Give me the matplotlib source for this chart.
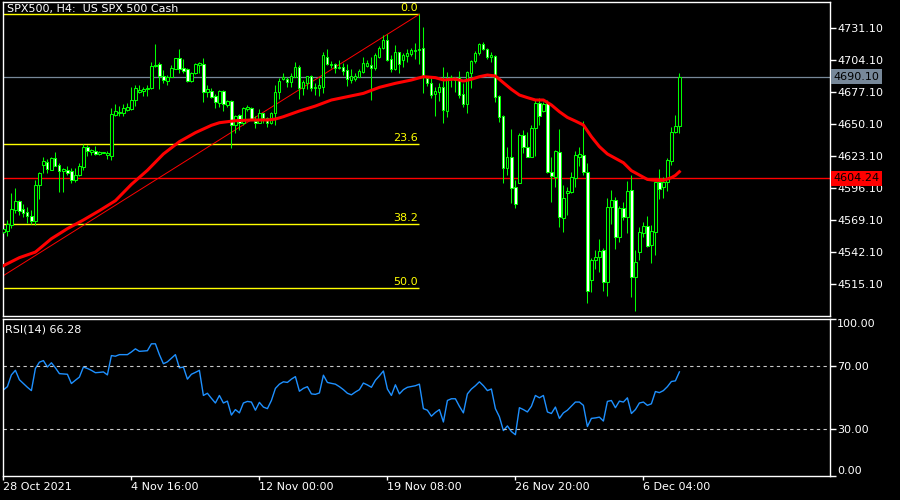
import numpy as np
import matplotlib
matplotlib.use('Agg')
import matplotlib.pyplot as plt
from matplotlib.transforms import blended_transform_factory

# H4 candles, 28 Oct 2021 .. 7 Dec 2021
opens = [4558.7, 4560.1, 4564.9, 4577.5, 4585.1, 4578.4, 4575.8, 4572.2, 4568.2, 4598.9,
         4615.8, 4617.8, 4611.6, 4621.2, 4615.6, 4610.8, 4611.3, 4610.2, 4602.6, 4607.1,
         4614.2, 4630.8, 4626.8, 4627.4, 4625.1, 4626.0, 4623.7, 4623.5, 4657.8, 4659.2,
         4659.2, 4662.0, 4662.6, 4670.2, 4677.5, 4678.4, 4679.5, 4680.4, 4698.9, 4700.6,
         4690.5, 4686.8, 4689.6, 4696.7, 4705.7, 4697.3, 4696.4, 4686.8, 4693.0, 4700.1,
         4700.9, 4677.5, 4678.4, 4673.9, 4667.7, 4678.4, 4666.3, 4669.6, 4649.4, 4657.5,
         4650.8, 4662.6, 4663.4, 4653.0, 4651.3, 4659.2, 4655.0, 4650.8, 4659.2, 4677.0,
         4688.0, 4688.2, 4686.0, 4690.2, 4698.4, 4680.9, 4684.6, 4690.5, 4680.4, 4680.4,
         4681.8, 4707.1, 4700.4, 4700.6, 4697.3, 4698.4, 4695.8, 4687.4, 4688.0, 4689.6,
         4694.4, 4699.2, 4700.1, 4697.3, 4706.5, 4714.2, 4721.2, 4704.9, 4696.7, 4710.8,
         4704.3, 4707.7, 4709.1, 4712.2, 4712.7, 4714.2, 4688.8, 4684.6, 4675.6, 4677.5,
         4681.2, 4661.2, 4688.0, 4687.4, 4690.2, 4675.3, 4666.8, 4693.6, 4703.4, 4709.9,
         4717.5, 4713.3, 4706.5, 4708.0, 4673.9, 4657.0, 4612.7, 4622.6, 4596.7, 4600.6,
         4640.9, 4630.5, 4622.6, 4646.5, 4667.7, 4661.5, 4667.7, 4609.9, 4605.7, 4626.8,
         4570.5, 4591.6, 4593.0, 4604.9, 4622.6, 4624.0, 4609.4, 4518.4, 4535.3, 4538.1,
         4543.7, 4517.0, 4579.8, 4586.0, 4554.4, 4578.9, 4571.9, 4594.4, 4521.2, 4542.3,
         4557.8, 4564.0, 4548.0, 4558.7, 4601.5, 4596.7, 4601.5, 4619.2, 4643.2, 4648.5]
highs = [4561.8, 4569.1, 4592.2, 4595.8, 4586.0, 4582.3, 4579.8, 4577.5, 4602.9, 4609.6,
         4622.3, 4620.6, 4622.0, 4626.3, 4617.0, 4613.3, 4615.0, 4612.7, 4613.3, 4617.0,
         4633.3, 4632.5, 4628.8, 4631.9, 4627.7, 4626.3, 4627.4, 4663.4, 4667.1, 4665.4,
         4667.4, 4667.7, 4681.2, 4683.2, 4683.2, 4681.2, 4683.2, 4702.3, 4717.8, 4702.9,
         4695.8, 4691.6, 4700.1, 4705.7, 4713.3, 4704.9, 4697.3, 4694.4, 4701.5, 4702.9,
         4705.7, 4683.2, 4680.4, 4675.3, 4678.9, 4678.9, 4670.5, 4670.5, 4657.8, 4658.4,
         4664.3, 4666.3, 4664.3, 4657.3, 4662.9, 4659.8, 4655.8, 4660.3, 4683.2, 4688.8,
         4693.6, 4689.6, 4693.0, 4702.6, 4700.1, 4687.4, 4690.8, 4691.3, 4685.1, 4688.8,
         4710.8, 4713.6, 4703.4, 4701.5, 4704.3, 4701.5, 4700.6, 4696.4, 4693.6, 4696.7,
         4706.5, 4704.3, 4707.1, 4709.9, 4716.1, 4725.4, 4726.0, 4708.5, 4717.0, 4711.3,
         4710.5, 4713.3, 4714.7, 4718.9, 4743.0, 4731.9, 4690.8, 4688.8, 4681.8, 4684.6,
         4698.7, 4694.4, 4691.6, 4690.2, 4695.3, 4684.6, 4695.3, 4704.3, 4712.2, 4718.4,
         4719.2, 4714.2, 4711.3, 4708.5, 4674.7, 4657.8, 4631.1, 4645.7, 4602.9, 4642.9,
         4645.1, 4643.7, 4649.4, 4670.5, 4671.9, 4669.1, 4670.5, 4622.6, 4628.2, 4646.0,
         4598.7, 4597.3, 4609.9, 4627.7, 4631.1, 4653.0, 4617.0, 4537.3, 4543.7, 4553.0,
         4545.1, 4587.4, 4594.4, 4588.8, 4580.9, 4584.6, 4602.3, 4607.1, 4543.7, 4562.9,
         4567.7, 4572.5, 4564.9, 4601.5, 4612.2, 4605.7, 4621.2, 4648.0, 4657.8, 4693.6]
lows = [4557.8, 4555.8, 4562.6, 4574.7, 4573.3, 4571.9, 4566.3, 4565.4, 4564.9, 4586.8,
        4609.1, 4609.1, 4611.3, 4614.7, 4593.0, 4593.0, 4607.1, 4600.1, 4600.9, 4606.5,
        4611.3, 4623.2, 4624.0, 4623.7, 4624.0, 4626.0, 4620.3, 4619.8, 4657.3, 4657.0,
        4657.3, 4661.2, 4662.0, 4665.4, 4676.1, 4674.2, 4673.9, 4679.5, 4698.7, 4679.5,
        4684.6, 4683.2, 4689.6, 4696.4, 4693.0, 4693.6, 4686.0, 4686.0, 4692.5, 4693.0,
        4669.1, 4673.3, 4671.9, 4663.4, 4664.9, 4661.5, 4664.3, 4629.6, 4642.9, 4645.1,
        4649.4, 4661.2, 4653.6, 4646.5, 4650.8, 4650.8, 4648.0, 4650.2, 4649.4, 4671.3,
        4687.4, 4681.2, 4681.2, 4689.6, 4671.3, 4674.7, 4679.5, 4678.4, 4674.7, 4674.2,
        4676.7, 4700.1, 4697.8, 4693.6, 4696.4, 4691.6, 4682.3, 4685.1, 4686.8, 4689.6,
        4693.6, 4698.7, 4670.5, 4695.8, 4705.7, 4713.3, 4703.4, 4694.4, 4695.8, 4693.0,
        4698.7, 4702.9, 4707.7, 4704.9, 4700.6, 4676.7, 4682.3, 4672.5, 4657.0, 4669.9,
        4651.3, 4656.4, 4681.8, 4677.5, 4671.9, 4664.3, 4659.2, 4680.4, 4702.0, 4708.5,
        4712.7, 4705.1, 4702.9, 4668.5, 4652.2, 4600.1, 4607.1, 4583.2, 4579.5, 4600.1,
        4625.4, 4622.6, 4622.6, 4623.2, 4649.4, 4660.6, 4608.5, 4584.6, 4597.3, 4563.4,
        4558.7, 4573.3, 4592.2, 4597.3, 4615.0, 4607.1, 4499.2, 4508.5, 4527.4, 4525.4,
        4509.1, 4505.1, 4565.4, 4544.3, 4550.8, 4569.1, 4557.8, 4504.3, 4492.5, 4535.3,
        4555.0, 4546.0, 4532.5, 4539.5, 4586.8, 4588.0, 4593.6, 4615.6, 4642.3, 4642.9]
closes = [4561.2, 4565.7, 4578.1, 4585.1, 4577.0, 4574.7, 4572.5, 4568.2, 4598.7, 4608.8,
          4618.9, 4612.2, 4621.2, 4615.0, 4610.8, 4612.2, 4608.8, 4602.6, 4607.1, 4615.0,
          4631.1, 4627.7, 4627.9, 4624.6, 4626.5, 4626.3, 4626.0, 4658.4, 4661.2, 4660.3,
          4664.0, 4664.9, 4670.2, 4680.4, 4678.9, 4680.1, 4680.9, 4699.2, 4699.8, 4690.8,
          4687.1, 4689.6, 4697.3, 4705.7, 4696.4, 4695.3, 4686.8, 4693.0, 4700.9, 4701.5,
          4677.0, 4679.5, 4673.3, 4668.5, 4678.4, 4666.8, 4669.6, 4649.4, 4657.3, 4650.8,
          4663.4, 4664.3, 4654.2, 4650.8, 4659.2, 4655.0, 4651.3, 4659.8, 4677.0, 4686.5,
          4689.6, 4686.0, 4690.5, 4698.4, 4680.9, 4686.0, 4690.5, 4680.4, 4681.2, 4682.9,
          4708.5, 4700.6, 4700.9, 4697.3, 4698.4, 4695.0, 4688.5, 4690.8, 4691.1, 4695.0,
          4702.0, 4701.8, 4697.8, 4708.5, 4714.2, 4721.2, 4704.3, 4696.4, 4710.8, 4700.6,
          4708.8, 4709.9, 4712.7, 4712.7, 4713.9, 4690.8, 4684.6, 4674.7, 4678.4, 4681.2,
          4662.0, 4688.8, 4689.6, 4688.8, 4674.7, 4666.8, 4693.9, 4703.4, 4709.9, 4717.5,
          4713.3, 4706.5, 4708.2, 4673.3, 4656.4, 4612.7, 4622.6, 4595.8, 4582.3, 4640.9,
          4630.5, 4622.6, 4646.5, 4667.7, 4657.3, 4667.1, 4609.9, 4606.3, 4627.4, 4571.3,
          4587.4, 4593.6, 4605.7, 4624.0, 4624.6, 4609.9, 4509.1, 4535.3, 4537.5, 4543.2,
          4517.0, 4580.3, 4586.0, 4554.4, 4578.9, 4571.9, 4593.6, 4521.2, 4533.3, 4558.7,
          4564.0, 4547.1, 4560.1, 4601.5, 4595.0, 4601.5, 4619.8, 4643.2, 4648.5, 4690.1]

# moving average (red), read at selected bars
ma_idx = [0, 4, 8, 12, 16, 20, 24, 28, 32, 36, 40, 44, 48, 52, 54, 58, 62, 66, 68, 70,
          74, 78, 82, 86, 90, 94, 98, 102, 105, 108, 110, 113, 115, 117, 119, 121, 123, 125, 127, 129,
          131, 133, 135, 137, 139, 141, 143, 145, 147, 149, 151, 153, 155, 157, 159, 161, 163, 165, 167, 168,
          169]
ma_val = [4530.5, 4537.3, 4542.0, 4553.3, 4561.8, 4569.1, 4577.0, 4585.4, 4599.2, 4611.1,
          4624.9, 4635.3, 4642.9, 4649.1, 4651.3, 4653.0, 4653.6, 4653.6, 4654.4, 4656.4,
          4661.2, 4665.4, 4670.5, 4673.3, 4676.1, 4681.2, 4684.6, 4687.4, 4690.2, 4689.4,
          4687.4, 4688.2, 4686.5, 4688.0, 4690.2, 4691.6, 4690.8, 4685.1, 4679.5, 4674.7,
          4672.5, 4670.5, 4670.5, 4666.3, 4660.6, 4655.8, 4652.7, 4649.4, 4639.5, 4631.1,
          4624.9, 4621.2, 4617.5, 4610.8, 4607.1, 4603.4, 4602.6, 4602.6, 4604.9, 4606.8,
          4609.9]

# RSI(14), one value per bar
rsi = [54.8, 56.9, 64.4, 67.3, 61.3, 58.9, 56.5, 54.4, 68.5, 72.5,
       73.5, 69.4, 72.1, 68.9, 65.2, 65.0, 64.8, 58.9, 61.0, 63.0,
       69.4, 68.5, 67.3, 65.8, 66.0, 66.3, 64.4, 76.7, 76.3, 77.3,
       77.3, 77.3, 79.0, 81.0, 79.4, 79.6, 79.8, 84.2, 84.2, 77.3,
       71.5, 72.7, 75.0, 77.3, 68.9, 69.4, 61.7, 64.8, 66.0, 67.3,
       51.3, 52.7, 49.5, 46.5, 51.3, 46.5, 47.7, 38.8, 42.3, 40.2,
       46.5, 47.5, 47.1, 41.9, 46.9, 43.9, 42.9, 48.1, 55.8, 58.5,
       60.0, 59.6, 61.7, 63.3, 54.0, 55.8, 56.9, 52.3, 52.0, 52.9,
       64.2, 59.6, 59.0, 58.5, 56.9, 55.0, 52.7, 51.7, 53.5, 55.0,
       59.2, 58.0, 56.5, 61.0, 63.8, 66.9, 55.4, 51.3, 58.1, 52.3,
       55.0, 56.5, 57.0, 57.5, 58.5, 42.9, 41.9, 38.1, 40.5, 42.3,
       34.4, 48.1, 49.2, 49.2, 44.4, 40.2, 52.3, 55.4, 57.5, 60.0,
       57.5, 54.4, 55.4, 42.9, 37.7, 28.9, 31.9, 28.3, 26.3, 43.5,
       42.3, 40.8, 44.4, 51.3, 49.8, 51.3, 40.8, 39.8, 43.9, 36.7,
       40.2, 41.9, 44.5, 47.1, 47.1, 45.0, 31.5, 36.7, 37.0, 37.5,
       35.0, 47.5, 48.1, 43.5, 47.7, 47.1, 49.8, 39.8, 42.3, 46.5,
       47.1, 45.0, 46.0, 53.8, 53.1, 54.4, 56.9, 60.2, 60.6, 66.3]

# fibonacci retracement anchors (low is off-chart to the left)
fib_x = [-114, 104]
fib_low, fib_high = 4280.0, 4743.0
fib_levels = [0.0, 23.6, 38.2, 50.0, 61.8, 100.0]

bid_price = 4690.10
hline_price = 4604.24
price_ticks = [4731.10, 4704.10, 4677.10, 4650.10, 4623.10, 4596.10, 4569.10, 4542.10, 4515.10]
date_idx = [0, 32, 64, 96, 128, 160]
date_labels = ['28 Oct 2021', '4 Nov 16:00', '12 Nov 00:00', '19 Nov 08:00', '26 Nov 20:00', '6 Dec 04:00']

GREEN = '#00ff00'

fig = plt.figure(figsize=(9, 5), dpi=100, facecolor='black')
ax = fig.add_axes([3/900, 1 - 316/500, 827/900, 314/500], facecolor='black')
rax = fig.add_axes([3/900, 1 - 476/500, 827/900, 157/500], facecolor='black')

x = np.arange(len(closes))
o = np.array(opens); h = np.array(highs); l = np.array(lows); c = np.array(closes)
up = c >= o
bot = np.minimum(o, c)
hgt = np.maximum(np.abs(c - o), 0.4)

# background lines
ax.axhline(bid_price, color='#778899', lw=0.9, zorder=1)
ax.axhline(hline_price, color='red', lw=1.0, zorder=1)
for lv in fib_levels:
    p = fib_high - (fib_high - fib_low) * lv / 100.0
    ax.hlines(p, fib_x[0], fib_x[1], color='yellow', lw=1.0, zorder=1)
    ax.text(fib_x[1] - 0.3, p + 0.8, '%.1f' % lv, color='yellow', fontsize=8,
            ha='right', va='bottom', clip_on=True, zorder=1)
ax.plot(fib_x, [fib_low, fib_high], color='red', lw=0.7, zorder=2)

# candles
ax.vlines(x, l, h, color=GREEN, lw=0.75, zorder=3)
ax.bar(x[up], hgt[up], bottom=bot[up], width=0.55, color='black',
       edgecolor=GREEN, lw=0.75, zorder=4)
ax.bar(x[~up], hgt[~up], bottom=bot[~up], width=0.55, color='white',
       edgecolor=GREEN, lw=0.75, zorder=4)

ax.plot(ma_idx, ma_val, color='red', lw=2.2, zorder=5)

ax.set_xlim(-0.1, 206.65)
ax.set_ylim(4488.0, 4753.3)
ax.set_xticks([])
ax.yaxis.tick_right()
ax.set_yticks(price_ticks)
ax.set_yticklabels(['%.2f' % t for t in price_ticks])
ax.tick_params(axis='y', colors='white', labelsize=8, length=4, width=1, pad=1)
for s in ax.spines.values():
    s.set_color('white'); s.set_linewidth(1)

tr = blended_transform_factory(ax.transAxes, ax.transData)
ax.text(1.0045, bid_price, '%.2f' % bid_price, transform=tr, fontsize=8, color='black',
        ha='left', va='center', clip_on=False, zorder=10,
        bbox=dict(boxstyle='square,pad=0.22', fc='#778899', ec='none'))
ax.text(1.0045, hline_price, '%.2f' % hline_price, transform=tr, fontsize=8, color='black',
        ha='left', va='center', clip_on=False, zorder=10,
        bbox=dict(boxstyle='square,pad=0.22', fc='red', ec='none'))

# RSI panel
rax.plot(np.arange(len(rsi)), rsi, color='#1e90ff', lw=1.0)
for lv in (70, 30):
    rax.axhline(lv, color='#c8c8c8', lw=0.8, ls=(0, (3, 3)))
rax.set_xlim(-0.1, 206.65)
rax.set_ylim(0, 100)
rax.yaxis.tick_right()
rax.set_yticks([100, 70, 30, 0])
rax.set_yticklabels(['100.00', '70.00', '30.00', '0.00'])
ylabs = rax.get_yticklabels()
ylabs[0].set_va('top')
ylabs[3].set_va('bottom')
rax.tick_params(axis='y', colors='white', labelsize=8, length=4, width=1, pad=1)
rax.set_xticks(date_idx)
rax.set_xticklabels(date_labels, ha='left')
rax.tick_params(axis='x', colors='white', labelsize=8, length=3, width=1, pad=1)
for s in rax.spines.values():
    s.set_color('white'); s.set_linewidth(1)

fig.text(7/900, 1 - 9/500, 'SPX500, H4:  US SPX 500 Cash', color='white', fontsize=8, va='center')
fig.text(5/900, 1 - 330/500, 'RSI(14) %.2f' % 66.28, color='white', fontsize=8, va='center')

fig.savefig('out.png', dpi=100, facecolor='black')
